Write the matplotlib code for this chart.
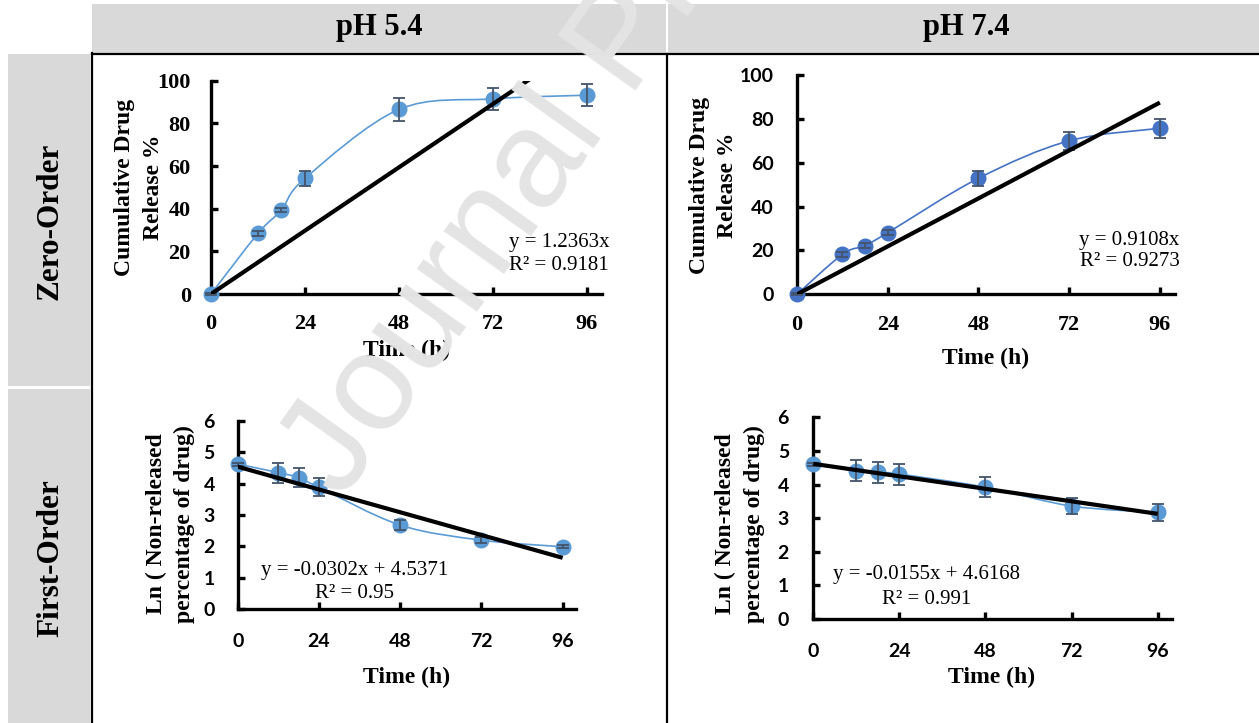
#!/usr/bin/env python3
# -*- coding: utf-8 -*-
"""
Release kinetics of the drug at pH 5.4 and pH 7.4
- Zero-order: cumulative release (%) vs time
- First-order: ln(non-released %) vs time
- Saves the table-style figure to out.png
"""

import numpy as np
import matplotlib
matplotlib.use("Agg")
import matplotlib.pyplot as plt
from matplotlib.path import Path
from matplotlib.patches import PathPatch, Rectangle

# ---- data ----
time_h = [0, 12, 18, 24, 48, 72, 96]

# zero-order: cumulative drug release (%) and SD
release_ph54 = [0, 28.4, 39.4, 54.2, 86.5, 91.5, 93.2]
release_ph54_sd = [0.5, 1.0, 1.0, 3.4, 5.2, 5.3, 5.2]
release_ph74 = [0, 18.2, 22.2, 28.1, 52.9, 70.0, 75.7]
release_ph74_sd = [0.5, 1.0, 1.0, 1.2, 3.3, 4.0, 4.4]

# first-order: ln(non-released %) and SD
ln_ph54 = [4.62, 4.35, 4.19, 3.88, 2.68, 2.20, 1.99]
ln_ph54_sd = [0.05, 0.32, 0.30, 0.29, 0.17, 0.10, 0.05]
ln_ph74 = [4.60, 4.41, 4.36, 4.31, 3.92, 3.36, 3.17]
ln_ph74_sd = [0.05, 0.31, 0.31, 0.31, 0.29, 0.25, 0.24]

# linear trendlines: (slope, intercept, R²)
fit_zero_ph54 = (1.2363, 0.0, 0.9181)
fit_zero_ph74 = (0.9108, 0.0, 0.9273)
fit_first_ph54 = (-0.0302, 4.5371, 0.95)
fit_first_ph74 = (-0.0155, 4.6168, 0.991)

col_titles = ["pH 5.4", "pH 7.4"]
row_titles = ["Zero-Order", "First-Order"]
time_ticks = [0, 24, 48, 72, 96]
zero_ticks = [0, 20, 40, 60, 80, 100]
first_ticks = [0, 1, 2, 3, 4, 5, 6]
zero_ylabel = "Cumulative Drug\nRelease %"
first_ylabel = "Ln ( Non-released\npercentage of drug)"
xlabel = "Time (h)"

# ---- style ----
W, H = 1259, 723
SERIF = "Liberation Serif"
SANS = "Lato"
BLUE = "#5B9BD5"
BLUE_DARK = "#4472C4"
ERR = "#44546A"
GRAY = "#D9D9D9"
MARK = "#E4E4E4"


def px_rect(left, top, right, bottom):
    """pixel box (origin top-left) -> figure fraction rect"""
    return [left / W, 1 - bottom / H, (right - left) / W, (bottom - top) / H]


def smooth_path(x, y):
    # Excel-like smoothed line: cubic Bezier segments through every point
    pts = np.column_stack([x, y]).astype(float)
    ext = np.vstack([pts[0], pts, pts[-1]])
    verts, codes = [pts[0]], [Path.MOVETO]
    for i in range(len(pts) - 1):
        p0, p1, p2, p3 = ext[i], ext[i + 1], ext[i + 2], ext[i + 3]
        verts += [p1 + (p2 - p0) / 6, p2 - (p3 - p1) / 6, p2]
        codes += [Path.CURVE4] * 3
    return Path(verts, codes)


def eq_text(m, b):
    s = f"y = {m:g}x"
    if b:
        s += f" + {b:g}"
    return s


fig = plt.figure(figsize=(W / 100, H / 100), dpi=100)

# background layer in pixel coordinates: table cells, headers, labels
bg = fig.add_axes([0, 0, 1, 1])
bg.set_xlim(0, W)
bg.set_ylim(H, 0)
bg.axis("off")
bg.set_zorder(-1)

bg.add_patch(Rectangle((92, 4), 574, 49, color=GRAY, lw=0))
bg.add_patch(Rectangle((668, 4), W - 668, 49, color=GRAY, lw=0))
bg.add_patch(Rectangle((8, 54), 82.5, 332, color=GRAY, lw=0))
bg.add_patch(Rectangle((8, 389), 82.5, H - 389, color=GRAY, lw=0))
bg.plot([92, W], [54, 54], color="black", lw=1.6)
bg.plot([92, 92], [53, H], color="black", lw=1.6)
bg.plot([667, 667], [54, H], color="black", lw=1.6)

for title, cx in zip(col_titles, [379, 966]):
    bg.text(cx, 28, title, ha="center", va="center", family=SERIF,
            weight="bold", fontsize=22)
for title, cy in zip(row_titles, [221, 558]):
    bg.text(50.5, cy, title, ha="center", va="center", rotation=90,
            family=SERIF, weight="bold", fontsize=22.5)

panels = [
    # data, sd, fit, colour, yticks, ylabel, geometry (left, top, bottom, px/h),
    # tick fonts (x, y), tick pads (x, y), label positions
    dict(y=release_ph54, sd=release_ph54_sd, fit=fit_zero_ph54, color=BLUE,
         yticks=zero_ticks, ylabel=zero_ylabel, geo=(211, 80.7, 294, 3.913),
         xfont=(SERIF, 16), yfont=(SERIF, 16), pads=(14.5, 14.5),
         ylab=(139, 187.6), xlab=(406.6, 350), eq=(559, 243, 266)),
    dict(y=release_ph74, sd=release_ph74_sd, fit=fit_zero_ph74, color=BLUE_DARK,
         yticks=zero_ticks, ylabel=zero_ylabel, geo=(797, 75, 294.3, 3.78),
         xfont=(SERIF, 16), yfont=(SANS, 14), pads=(15, 17),
         ylab=(713.3, 185), xlab=(986, 358), eq=(1129.5, 241, 262)),
    dict(y=ln_ph54, sd=ln_ph54_sd, fit=fit_first_ph54, color=BLUE,
         yticks=first_ticks, ylabel=first_ylabel, geo=(237.7, 420.7, 609.3, 3.385),
         xfont=(SANS, 14), yfont=(SANS, 14), pads=(17, 16.5),
         ylab=(170.5, 524), xlab=(406.7, 677), eq=(354.5, 570.8, 594)),
    dict(y=ln_ph74, sd=ln_ph74_sd, fit=fit_first_ph74, color=BLUE,
         yticks=first_ticks, ylabel=first_ylabel, geo=(813.3, 417.3, 619, 3.587),
         xfont=(SANS, 14), yfont=(SANS, 14), pads=(17, 17.5),
         ylab=(740, 524), xlab=(992, 677), eq=(926.5, 575, 599)),
]

for p in panels:
    left, top, bottom, pph = p["geo"]
    ax = fig.add_axes(px_rect(left, top, left + 100 * pph, bottom))
    ax.set_facecolor("none")
    ax.set_xlim(0, 100)
    ax.set_ylim(p["yticks"][0], p["yticks"][-1])

    # smoothed release curve, markers, error bars
    ax.add_patch(PathPatch(smooth_path(time_h, p["y"]), fill=False,
                           edgecolor=p["color"], lw=1.2, zorder=2))
    ax.plot(time_h, p["y"], "o", ms=10.5, color=p["color"], clip_on=False, zorder=3)
    ax.errorbar(time_h, p["y"], yerr=p["sd"], fmt="none", ecolor=ERR,
                elinewidth=1.3, capsize=4.5, capthick=1.3, clip_on=False, zorder=4)

    # linear trendline over the sampled time range
    m, b, r2 = p["fit"]
    tx = np.array([time_h[0], time_h[-1]])
    ax.plot(tx, m * tx + b, color="black", lw=3, solid_capstyle="butt", zorder=5)

    for side in ["top", "right"]:
        ax.spines[side].set_visible(False)
    for side in ["left", "bottom"]:
        ax.spines[side].set_linewidth(2.4)
    ax.tick_params(direction="in", length=5, width=2.4)
    ax.tick_params(axis="x", pad=p["pads"][0])
    ax.tick_params(axis="y", pad=p["pads"][1])
    ax.set_xticks(time_ticks, labels=[str(t) for t in time_ticks],
                  family=p["xfont"][0], fontsize=p["xfont"][1], weight="bold")
    ax.set_yticks(p["yticks"], labels=[str(t) for t in p["yticks"]],
                  family=p["yfont"][0], fontsize=p["yfont"][1], weight="bold")

    bg.text(*p["ylab"], p["ylabel"], rotation=90, ha="center", va="center",
            multialignment="center", linespacing=1.45,
            family=SERIF, weight="bold", fontsize=17)
    bg.text(*p["xlab"], xlabel, ha="center", va="center",
            family=SERIF, weight="bold", fontsize=17)
    ex, ey1, ey2 = p["eq"]
    bg.text(ex, ey1, eq_text(m, b), ha="center", va="center",
            family=SERIF, fontsize=15)
    bg.text(ex, ey2, f"R² = {r2:g}", ha="center", va="center",
            family=SERIF, fontsize=15)

# "Journal Pre-proof" watermark across the page
fig.text(342 / W, 1 - 501 / H, "Journal Pre-proof", rotation=54.5,
         rotation_mode="anchor", ha="left", va="baseline",
         family="Liberation Sans", fontsize=100, color=MARK, zorder=10)

fig.savefig("out.png", dpi=100)
print("[Saved] out.png")
